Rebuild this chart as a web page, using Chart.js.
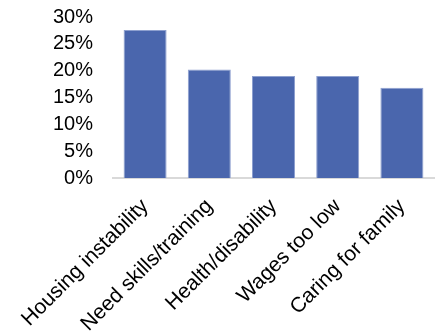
<!DOCTYPE html>
<html>
<head>
<meta charset="utf-8">
<script src="https://cdn.jsdelivr.net/npm/chart.js@4/dist/chart.umd.min.js"></script>
<style>
  html, body { margin: 0; padding: 0; background: #ffffff; }
  #wrap { width: 437px; height: 331px; position: relative; }
</style>
</head>
<body>
<div id="wrap"><canvas id="chart"></canvas></div>
<script>
// Reasons cited, share of respondents (%)
const categories = ['Housing instability', 'Need skills/training', 'Health/disability', 'Wages too low', 'Caring for family'];
const shares = [27.6, 20.2, 19.0, 19.0, 16.8];
const yTickValues = [0, 5, 10, 15, 20, 25, 30];

const FONT = 'Liberation Sans, Arial, sans-serif';

new Chart(document.getElementById('chart'), {
  type: 'bar',
  data: {
    labels: categories,
    datasets: [{
      data: shares,
      backgroundColor: '#4a66ad',
      borderColor: '#8ea0cf',
      borderWidth: 1,
      categoryPercentage: 1.0,
      barPercentage: 0.67
    }]
  },
  options: {
    responsive: true,
    maintainAspectRatio: false,
    animation: false,
    layout: { padding: { top: 17, right: 3, left: 0, bottom: 0 } },
    plugins: { legend: { display: false }, tooltip: { enabled: false } },
    scales: {
      x: {
        grid: { display: false, drawTicks: false },
        border: { display: true, color: '#d9d9d9', width: 2 },
        ticks: {
          color: '#000',
          font: { family: FONT, size: 21 },
          minRotation: 45,
          maxRotation: 45,
          autoSkip: false,
          padding: 16
        },
        afterFit: s => { s.height = 153; s.paddingLeft = 0; s.paddingRight = 0; }
      },
      y: {
        min: 0,
        max: 30,
        afterBuildTicks: s => { s.ticks = yTickValues.map(v => ({ value: v })); },
        grid: { display: false, drawTicks: false },
        border: { display: false },
        ticks: {
          color: '#000',
          font: { family: FONT, size: 20 },
          padding: 20,
          autoSkip: false,
          callback: v => v + '%'
        },
        afterFit: s => { s.width = 113; s.paddingTop = 0; s.paddingBottom = 0; }
      }
    }
  }
});
</script>
</body>
</html>
